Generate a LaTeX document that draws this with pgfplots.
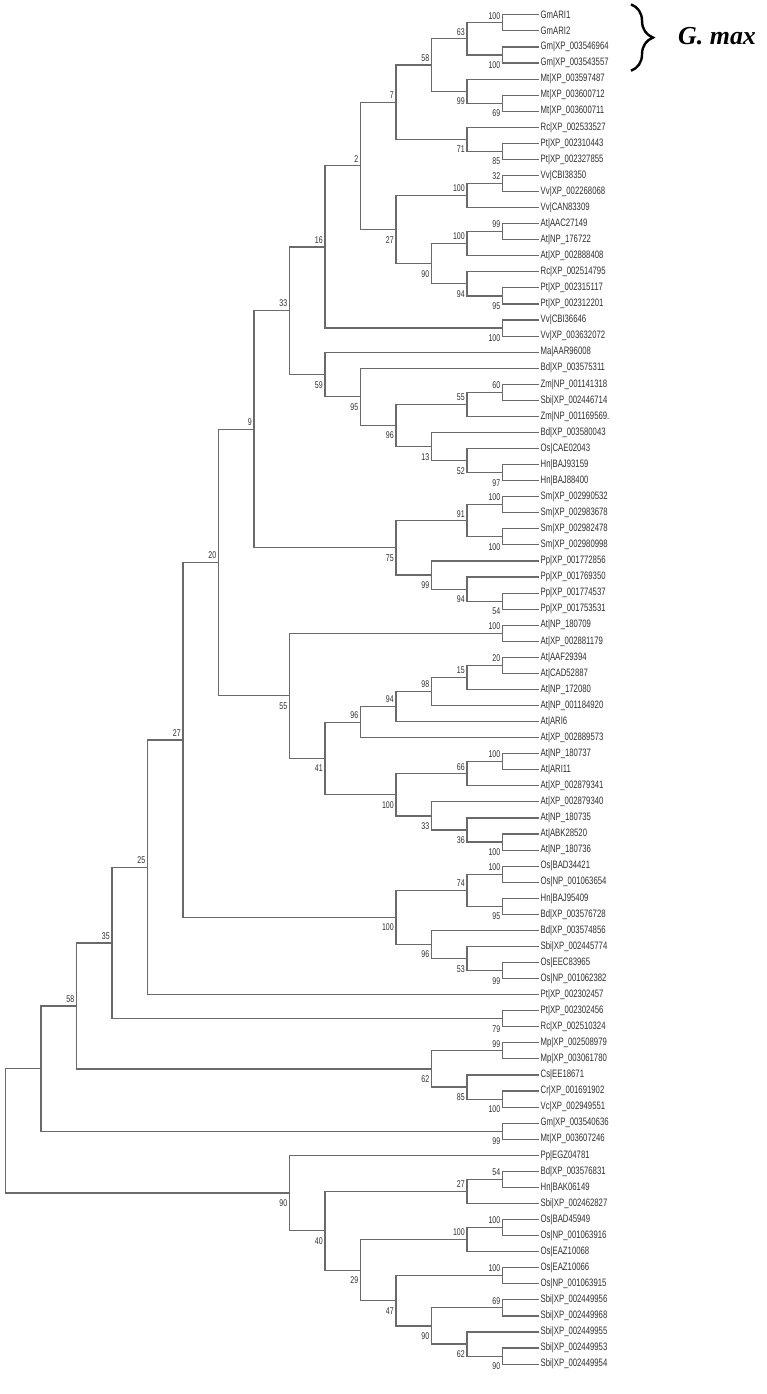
\documentclass[border=0pt]{standalone}
\usepackage{fontspec}
\usepackage{pgfplots}
\pgfplotsset{compat=1.18}
\usetikzlibrary{decorations.pathreplacing}
\newfontfamily\labfont[FakeStretch=0.72]{Liberation Sans}
\newfontfamily\gmfont{Liberation Serif}
\definecolor{treeline}{HTML}{6A6A6A}
\definecolor{labtxt}{HTML}{2E2E2E}
\begin{document}
\begin{tikzpicture}
\begin{axis}[
  width=766bp, height=1394bp, scale only axis,
  xmin=-6.4225, xmax=15.1549, x dir=reverse,
  ymin=0.0769, ymax=86.8615, y dir=reverse,
  hide axis, clip=false,
]
\path (rel axis cs:0,0) rectangle (rel axis cs:1,1);
% ---- tree edges: x = node level (0 = tips), y = leaf index
\addplot[treeline, line width=1.15bp, mark=none, unbounded coords=jump, line cap=rect, line join=miter] coordinates {
(0,1)(1,1)(1,2)(0,2) (nan,nan)
(0,3)(1,3)(1,4)(0,4) (nan,nan)
(1,1.5)(2,1.5)(2,3.5)(1,3.5) (nan,nan)
(0,6)(1,6)(1,7)(0,7) (nan,nan)
(0,5)(2,5)(2,6.5)(1,6.5) (nan,nan)
(2,2.5)(3,2.5)(3,5.75)(2,5.75) (nan,nan)
(0,9)(1,9)(1,10)(0,10) (nan,nan)
(0,8)(2,8)(2,9.5)(1,9.5) (nan,nan)
(3,4.125)(4,4.125)(4,8.75)(2,8.75) (nan,nan)
(0,11)(1,11)(1,12)(0,12) (nan,nan)
(1,11.5)(2,11.5)(2,13)(0,13) (nan,nan)
(0,14)(1,14)(1,15)(0,15) (nan,nan)
(1,14.5)(2,14.5)(2,16)(0,16) (nan,nan)
(0,18)(1,18)(1,19)(0,19) (nan,nan)
(0,17)(2,17)(2,18.5)(1,18.5) (nan,nan)
(2,15.25)(3,15.25)(3,17.75)(2,17.75) (nan,nan)
(2,12.25)(4,12.25)(4,16.5)(3,16.5) (nan,nan)
(4,6.4375)(5,6.4375)(5,14.375)(4,14.375) (nan,nan)
(0,20)(1,20)(1,21)(0,21) (nan,nan)
(5,10.40625)(6,10.40625)(6,20.5)(1,20.5) (nan,nan)
(0,24)(1,24)(1,25)(0,25) (nan,nan)
(1,24.5)(2,24.5)(2,26)(0,26) (nan,nan)
(0,29)(1,29)(1,30)(0,30) (nan,nan)
(0,28)(2,28)(2,29.5)(1,29.5) (nan,nan)
(0,27)(3,27)(3,28.75)(2,28.75) (nan,nan)
(2,25.25)(4,25.25)(4,27.875)(3,27.875) (nan,nan)
(0,23)(5,23)(5,26.5625)(4,26.5625) (nan,nan)
(0,22)(6,22)(6,24.78125)(5,24.78125) (nan,nan)
(6,15.453125)(7,15.453125)(7,23.390625)(6,23.390625) (nan,nan)
(0,31)(1,31)(1,32)(0,32) (nan,nan)
(0,33)(1,33)(1,34)(0,34) (nan,nan)
(1,31.5)(2,31.5)(2,33.5)(1,33.5) (nan,nan)
(0,37)(1,37)(1,38)(0,38) (nan,nan)
(0,36)(2,36)(2,37.5)(1,37.5) (nan,nan)
(0,35)(3,35)(3,36.75)(2,36.75) (nan,nan)
(2,32.5)(4,32.5)(4,35.875)(3,35.875) (nan,nan)
(7,19.421875)(8,19.421875)(8,34.1875)(4,34.1875) (nan,nan)
(0,39)(1,39)(1,40)(0,40) (nan,nan)
(0,41)(1,41)(1,42)(0,42) (nan,nan)
(1,41.5)(2,41.5)(2,43)(0,43) (nan,nan)
(2,42.25)(3,42.25)(3,44)(0,44) (nan,nan)
(3,43.125)(4,43.125)(4,45)(0,45) (nan,nan)
(4,44.0625)(5,44.0625)(5,46)(0,46) (nan,nan)
(0,47)(1,47)(1,48)(0,48) (nan,nan)
(1,47.5)(2,47.5)(2,49)(0,49) (nan,nan)
(0,52)(1,52)(1,53)(0,53) (nan,nan)
(0,51)(2,51)(2,52.5)(1,52.5) (nan,nan)
(0,50)(3,50)(3,51.75)(2,51.75) (nan,nan)
(2,48.25)(4,48.25)(4,50.875)(3,50.875) (nan,nan)
(5,45.03125)(6,45.03125)(6,49.5625)(4,49.5625) (nan,nan)
(1,39.5)(7,39.5)(7,47.296875)(6,47.296875) (nan,nan)
(8,26.8046875)(9,26.8046875)(9,43.3984375)(7,43.3984375) (nan,nan)
(0,54)(1,54)(1,55)(0,55) (nan,nan)
(0,56)(1,56)(1,57)(0,57) (nan,nan)
(1,54.5)(2,54.5)(2,56.5)(1,56.5) (nan,nan)
(0,60)(1,60)(1,61)(0,61) (nan,nan)
(0,59)(2,59)(2,60.5)(1,60.5) (nan,nan)
(0,58)(3,58)(3,59.75)(2,59.75) (nan,nan)
(2,55.5)(4,55.5)(4,58.875)(3,58.875) (nan,nan)
(9,35.1015625)(10,35.1015625)(10,57.1875)(4,57.1875) (nan,nan)
(10,46.14453125)(11,46.14453125)(11,62)(0,62) (nan,nan)
(0,63)(1,63)(1,64)(0,64) (nan,nan)
(11,54.072265625)(12,54.072265625)(12,63.5)(1,63.5) (nan,nan)
(0,65)(1,65)(1,66)(0,66) (nan,nan)
(0,68)(1,68)(1,69)(0,69) (nan,nan)
(0,67)(2,67)(2,68.5)(1,68.5) (nan,nan)
(1,65.5)(3,65.5)(3,67.75)(2,67.75) (nan,nan)
(12,58.7861328125)(13,58.7861328125)(13,66.625)(3,66.625) (nan,nan)
(0,70)(1,70)(1,71)(0,71) (nan,nan)
(13,62.70556640625)(14,62.70556640625)(14,70.5)(1,70.5) (nan,nan)
(0,73)(1,73)(1,74)(0,74) (nan,nan)
(1,73.5)(2,73.5)(2,75)(0,75) (nan,nan)
(0,76)(1,76)(1,77)(0,77) (nan,nan)
(1,76.5)(2,76.5)(2,78)(0,78) (nan,nan)
(0,79)(1,79)(1,80)(0,80) (nan,nan)
(0,81)(1,81)(1,82)(0,82) (nan,nan)
(0,84)(1,84)(1,85)(0,85) (nan,nan)
(0,83)(2,83)(2,84.5)(1,84.5) (nan,nan)
(1,81.5)(3,81.5)(3,83.75)(2,83.75) (nan,nan)
(1,79.5)(4,79.5)(4,82.625)(3,82.625) (nan,nan)
(2,77.25)(5,77.25)(5,81.0625)(4,81.0625) (nan,nan)
(2,74.25)(6,74.25)(6,79.15625)(5,79.15625) (nan,nan)
(0,72)(7,72)(7,76.703125)(6,76.703125) (nan,nan)
(14,66.602783203125)(15,66.602783203125)(15,74.3515625)(7,74.3515625)
};
% ---- bootstrap values above the branch
\addplot[draw=none, mark=none, point meta=explicit symbolic, nodes near coords,
  every node near coord/.append style={anchor=south east, inner sep=0pt, xshift=-2bp, yshift=3.5bp,
  font=\labfont\fontsize{9.8}{9.8}\selectfont, text=labtxt}] coordinates {
(1,1.5)[100] (2,2.5)[63] (3,4.125)[58] (4,6.4375)[7]
(1,11.5)[32] (2,12.25)[100] (1,14.5)[99] (2,15.25)[100]
(5,10.40625)[2] (6,15.453125)[16] (1,24.5)[60] (2,25.25)[55]
(7,19.421875)[33] (1,31.5)[100] (2,32.5)[91] (8,26.8046875)[9]
(1,39.5)[100] (1,41.5)[20] (2,42.25)[15] (3,43.125)[98] (4,44.0625)[94] (5,45.03125)[96]
(1,47.5)[100] (2,48.25)[66] (9,35.1015625)[20]
(1,54.5)[100] (2,55.5)[74] (10,46.14453125)[27] (11,54.072265625)[25]
(12,58.7861328125)[35] (1,65.5)[99] (13,62.70556640625)[58]
(1,73.5)[54] (2,74.25)[27] (1,76.5)[100] (2,77.25)[100] (1,79.5)[100] (1,81.5)[69]
};
% ---- bootstrap values below the branch
\addplot[draw=none, mark=none, point meta=explicit symbolic, nodes near coords,
  every node near coord/.append style={anchor=north east, inner sep=0pt, xshift=-2bp, yshift=-6.5bp,
  font=\labfont\fontsize{9.8}{9.8}\selectfont, text=labtxt}] coordinates {
(1,3.5)[100] (1,6.5)[69] (2,5.75)[99] (1,9.5)[85] (2,8.75)[71]
(1,18.5)[95] (2,17.75)[94] (3,16.5)[90] (4,14.375)[27] (1,20.5)[100]
(1,29.5)[97] (2,28.75)[52] (3,27.875)[13] (4,26.5625)[96] (5,24.78125)[95] (6,23.390625)[59]
(1,33.5)[100] (1,37.5)[54] (2,36.75)[94] (3,35.875)[99] (4,34.1875)[75]
(1,52.5)[100] (2,51.75)[36] (3,50.875)[33] (4,49.5625)[100] (6,47.296875)[41] (7,43.3984375)[55]
(1,56.5)[95] (1,60.5)[99] (2,59.75)[53] (3,58.875)[96] (4,57.1875)[100]
(1,63.5)[79] (1,68.5)[100] (2,67.75)[85] (3,66.625)[62] (1,70.5)[99]
(1,84.5)[90] (2,83.75)[62] (3,82.625)[90] (4,81.0625)[47] (5,79.15625)[29] (6,76.703125)[40] (7,74.3515625)[90]
};
% ---- leaf names
\addplot[draw=none, mark=none, point meta=explicit symbolic, nodes near coords,
  every node near coord/.append style={anchor=west, inner sep=0pt, xshift=2.5bp,
  font=\labfont\fontsize{10.8}{10.8}\selectfont, text=labtxt}] coordinates {
(0,1)[GmARI1] (0,2)[GmARI2] (0,3)[Gm|XP\_003546964] (0,4)[Gm|XP\_003543557]
(0,5)[Mt|XP\_003597487] (0,6)[Mt|XP\_003600712] (0,7)[Mt|XP\_003600711]
(0,8)[Rc|XP\_002533527] (0,9)[Pt|XP\_002310443] (0,10)[Pt|XP\_002327855]
(0,11)[Vv|CBI38350] (0,12)[Vv|XP\_002268068] (0,13)[Vv|CAN83309]
(0,14)[At|AAC27149] (0,15)[At|NP\_176722] (0,16)[At|XP\_002888408]
(0,17)[Rc|XP\_002514795] (0,18)[Pt|XP\_002315117] (0,19)[Pt|XP\_002312201]
(0,20)[Vv|CBI36646] (0,21)[Vv|XP\_003632072] (0,22)[Ma|AAR96008]
(0,23)[Bd|XP\_003575311] (0,24)[Zm|NP\_001141318] (0,25)[Sbi|XP\_002446714]
(0,26)[Zm|NP\_001169569.] (0,27)[Bd|XP\_003580043] (0,28)[Os|CAE02043]
(0,29)[Hn|BAJ93159] (0,30)[Hn|BAJ88400] (0,31)[Sm|XP\_002990532]
(0,32)[Sm|XP\_002983678] (0,33)[Sm|XP\_002982478] (0,34)[Sm|XP\_002980998]
(0,35)[Pp|XP\_001772856] (0,36)[Pp|XP\_001769350] (0,37)[Pp|XP\_001774537]
(0,38)[Pp|XP\_001753531] (0,39)[At|NP\_180709] (0,40)[At|XP\_002881179]
(0,41)[At|AAF29394] (0,42)[At|CAD52887] (0,43)[At|NP\_172080]
(0,44)[At|NP\_001184920] (0,45)[At|ARI6] (0,46)[At|XP\_002889573]
(0,47)[At|NP\_180737] (0,48)[At|ARI11] (0,49)[At|XP\_002879341]
(0,50)[At|XP\_002879340] (0,51)[At|NP\_180735] (0,52)[At|ABK28520]
(0,53)[At|NP\_180736] (0,54)[Os|BAD34421] (0,55)[Os|NP\_001063654]
(0,56)[Hn|BAJ95409] (0,57)[Bd|XP\_003576728] (0,58)[Bd|XP\_003574856]
(0,59)[Sbi|XP\_002445774] (0,60)[Os|EEC83965] (0,61)[Os|NP\_001062382]
(0,62)[Pt|XP\_002302457] (0,63)[Pt|XP\_002302456] (0,64)[Rc|XP\_002510324]
(0,65)[Mp|XP\_002508979] (0,66)[Mp|XP\_003061780] (0,67)[Cs|EE18671]
(0,68)[Cr|XP\_001691902] (0,69)[Vc|XP\_002949551] (0,70)[Gm|XP\_003540636]
(0,71)[Mt|XP\_003607246] (0,72)[Pp|EGZ04781] (0,73)[Bd|XP\_003576831]
(0,74)[Hn|BAK06149] (0,75)[Sbi|XP\_002462827] (0,76)[Os|BAD45949]
(0,77)[Os|NP\_001063916] (0,78)[Os|EAZ10068] (0,79)[Os|EAZ10066]
(0,80)[Os|NP\_001063915] (0,81)[Sbi|XP\_002449956] (0,82)[Sbi|XP\_002449968]
(0,83)[Sbi|XP\_002449955] (0,84)[Sbi|XP\_002449953] (0,85)[Sbi|XP\_002449954]
};
% ---- G. max bracket
\draw[decorate, decoration={brace, amplitude=22bp}, line width=2.4bp, black]
  (axis cs:-2.62,0.35) -- (axis cs:-2.62,4.48);
\node[anchor=west, inner sep=0pt, font=\gmfont\bfseries\itshape\fontsize{26}{26}\selectfont]
  at (axis cs:-3.944,2.354) {G. max};
\end{axis}
\end{tikzpicture}
\end{document}
